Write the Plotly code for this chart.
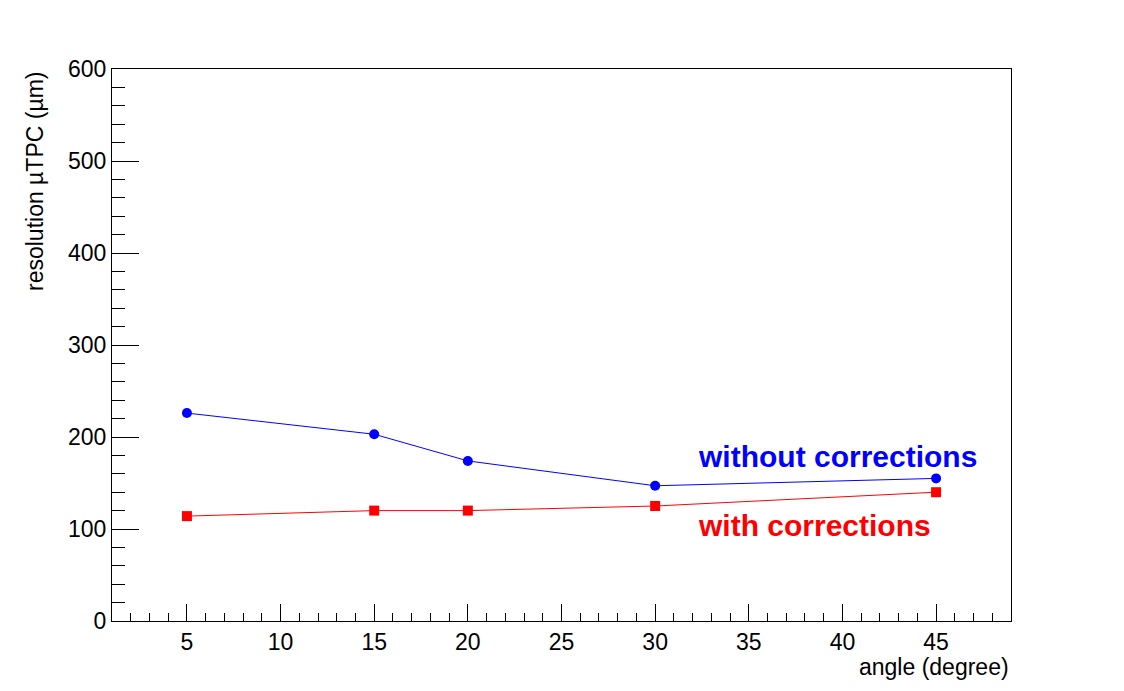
import plotly.graph_objects as go

angles = [5, 15, 20, 30, 45]
without_corr = [226, 203, 174, 147, 155]
with_corr = [114, 120, 120, 125, 140]

FONT = "Liberation Sans, Arial, sans-serif"

fig = go.Figure()
fig.add_trace(go.Scatter(x=angles, y=without_corr, mode="lines+markers",
                         line=dict(color="#0000ff", width=1),
                         marker=dict(symbol="circle", size=10, color="#0000ff"),
                         showlegend=False))
fig.add_trace(go.Scatter(x=angles, y=with_corr, mode="lines+markers",
                         line=dict(color="#ff0000", width=1),
                         marker=dict(symbol="square", size=10, color="#ff0000"),
                         showlegend=False))

fig.update_layout(
    width=1124, height=691,
    margin=dict(l=112, r=113, t=69, b=70),
    paper_bgcolor="white", plot_bgcolor="white",
    font=dict(family=FONT, color="black", size=23),
    xaxis=dict(range=[1, 49], dtick=5, tick0=0, showgrid=False, zeroline=False,
               ticks="inside", ticklen=17, tickcolor="black", tickwidth=1,
               minor=dict(ticks="inside", ticklen=8, dtick=1, tick0=0, tickcolor="black", showgrid=False),
               showline=True, linecolor="black", linewidth=1, mirror=True,
               tickfont=dict(size=23, family=FONT)),
    yaxis=dict(range=[0, 600], dtick=100, showgrid=False, zeroline=False,
               ticks="inside", ticklen=27, tickcolor="black", tickwidth=1,
               minor=dict(ticks="inside", ticklen=13, dtick=20, tickcolor="black", showgrid=False),
               showline=True, linecolor="black", linewidth=1, mirror=True,
               tickfont=dict(size=23, family=FONT)),
    annotations=[
        dict(text="resolution \u00b5TPC (\u00b5m)", xref="paper", yref="paper",
             x=(35 - 112) / 899, y=1.0, xanchor="center", yanchor="top", textangle=-90,
             showarrow=False, font=dict(size=23, family=FONT)),
        dict(text="angle (degree)", xref="paper", yref="paper", x=1.0, y=-0.056,
             xanchor="right", yanchor="top", showarrow=False, font=dict(size=23, family=FONT)),
        dict(text="<b>without corrections</b>", xref="x", yref="y", x=32.2, y=179,
             xanchor="left", yanchor="middle", showarrow=False,
             font=dict(size=30, color="#0000ff", family=FONT)),
        dict(text="<b>with corrections</b>", xref="x", yref="y", x=32.2, y=104,
             xanchor="left", yanchor="middle", showarrow=False,
             font=dict(size=30, color="#ff0000", family=FONT)),
    ],
)

fig.write_html("out.html")
